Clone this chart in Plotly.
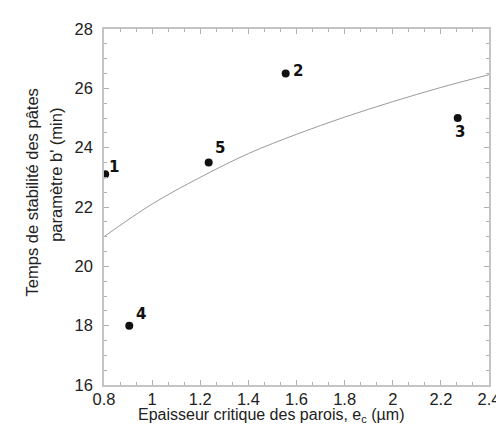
import plotly.graph_objects as go

# Data points
sample_labels = ["1", "2", "3", "4", "5"]
thickness = [0.805, 1.555, 2.27, 0.905, 1.235]
stability = [23.1, 26.5, 25.0, 18.0, 23.5]

# Trend curve
curve_x = [0.8, 1.0, 1.2, 1.4, 1.6, 1.8, 2.0, 2.2, 2.4]
curve_y = [21.0, 22.1, 23.0, 23.8, 24.45, 25.03, 25.55, 26.03, 26.46]

x_ticks = [0.8, 1, 1.2, 1.4, 1.6, 1.8, 2, 2.2, 2.4]
x_ticktext = ["0.8", "1", "1.2", "1.4", "1.6", "1.8", "2", "2.2", "2.4"]
y_ticks = [16, 18, 20, 22, 24, 26, 28]

# label offsets in pixels (style)
label_shift = [(9, 7), (12, 3), (2, -14), (12, 12), (11, 15)]

FONT = "Liberation Sans, Arial, sans-serif"
LABEL_FONT = "DejaVu Sans, Verdana, sans-serif"

fig = go.Figure()
fig.add_trace(go.Scatter(
    x=curve_x, y=curve_y, mode="lines", line_shape="spline",
    line=dict(color="#9a9a9a", width=1), hoverinfo="skip", showlegend=False))
fig.add_trace(go.Scatter(
    x=thickness, y=stability, mode="markers",
    marker=dict(color="#111", size=8), showlegend=False))

for lab, xv, yv, (dx, dy) in zip(sample_labels, thickness, stability, label_shift):
    fig.add_annotation(x=xv, y=yv, text="<b>" + lab + "</b>", showarrow=False,
                       xshift=dx, yshift=dy, xanchor="center", yanchor="middle",
                       font=dict(family=LABEL_FONT, size=15, color="#111"))

axis_common = dict(
    showgrid=False, zeroline=False, showline=True, linecolor="#c4c4c4", linewidth=1.5,
    mirror="ticks", ticks="inside", ticklen=5, tickcolor="#b0b0b0", tickwidth=1,
    tickfont=dict(family=FONT, size=16.5, color="#222"),
)

fig.update_layout(
    width=504, height=425,
    margin=dict(l=96, r=15, t=17, b=48),
    paper_bgcolor="white", plot_bgcolor="white",
    font=dict(family=FONT, color="#222"),
    xaxis=dict(
        range=[0.8, 2.4], tickvals=x_ticks, ticktext=x_ticktext,
        minor=dict(dtick=0.2 / 3, ticks="inside", ticklen=3, tickcolor="#b0b0b0"),
        ticklabelstandoff=-2,
        **axis_common),
    yaxis=dict(
        range=[16, 28], tickvals=y_ticks,
        minor=dict(dtick=0.5, ticks="inside", ticklen=3, tickcolor="#b0b0b0"),
        ticklabelstandoff=6,
        **axis_common),
)

# axis titles
fig.add_annotation(xref="paper", yref="paper", x=0.435, y=-0.087,
                   text="Epaisseur critique des parois, e<sub>c</sub> (µm)",
                   showarrow=False, xanchor="center", yanchor="middle",
                   font=dict(family=FONT, size=16, color="#222"))
fig.add_annotation(xref="paper", yref="paper", x=-0.188, y=0.54,
                   text="Temps de stabilité des pâtes", textangle=-90,
                   showarrow=False, xanchor="center", yanchor="middle",
                   font=dict(family=FONT, size=16.5, color="#222"))
fig.add_annotation(xref="paper", yref="paper", x=-0.125, y=0.59,
                   text="paramètre b' (min)", textangle=-90,
                   showarrow=False, xanchor="center", yanchor="middle",
                   font=dict(family=FONT, size=16.5, color="#222"))

fig.write_html("out.html")
